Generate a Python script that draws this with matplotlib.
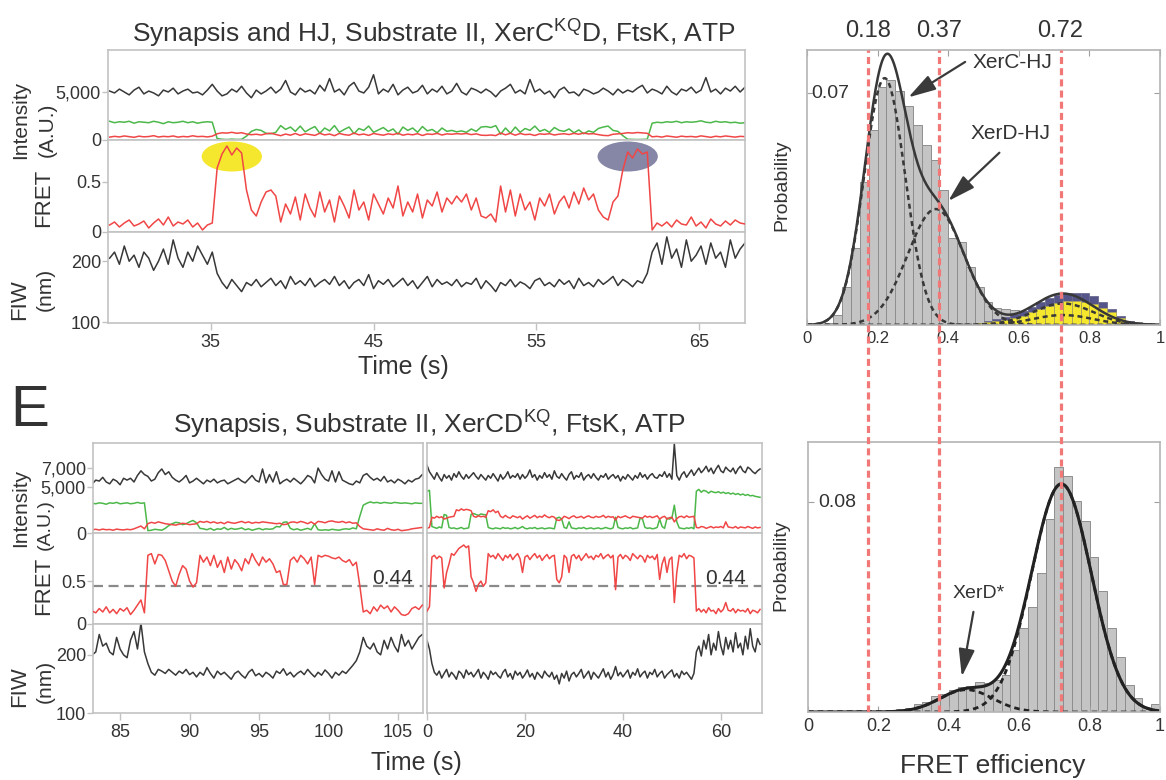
import numpy as np
import matplotlib
matplotlib.use("Agg")
import matplotlib.pyplot as plt
from matplotlib.patches import Ellipse
from matplotlib import font_manager

# ---------------- data ----------------
# top-left trace (Synapsis and HJ), sampled every 0.3 s from 28.8 s
TL_T0, TL_DT = 28.8, 0.3
tl_fret = [0.07, 0.10, 0.05, 0.09, 0.12, 0.06, 0.08, 0.11, 0.04, 0.09,
           0.13, 0.07, 0.15, 0.06, 0.10, 0.08, 0.12, 0.05, 0.09, 0.02,
           0.07, 0.09, 0.64, 0.78, 0.86, 0.77, 0.84, 0.79, 0.42, 0.22,
           0.16, 0.30, 0.40, 0.42, 0.36, 0.10, 0.28, 0.18, 0.35, 0.12,
           0.38, 0.24, 0.15, 0.40, 0.20, 0.32, 0.10, 0.36, 0.26, 0.14,
           0.42, 0.22, 0.30, 0.12, 0.38, 0.28, 0.18, 0.34, 0.24, 0.46,
           0.16, 0.30, 0.20, 0.38, 0.14, 0.32, 0.26, 0.40, 0.20, 0.34,
           0.28, 0.36, 0.30, 0.38, 0.22, 0.34, 0.16, 0.14, 0.18, 0.10,
           0.46, 0.20, 0.42, 0.16, 0.38, 0.22, 0.30, 0.12, 0.34, 0.26,
           0.38, 0.18, 0.30, 0.36, 0.24, 0.40, 0.28, 0.44, 0.32, 0.38,
           0.22, 0.15, 0.12, 0.30, 0.36, 0.62, 0.80, 0.74, 0.83, 0.78,
           0.80, 0.02, 0.09, 0.06, 0.10, 0.05, 0.12, 0.08, 0.07, 0.15,
           0.06, 0.10, 0.04, 0.13, 0.08, 0.06, 0.11, 0.07, 0.12, 0.09,
           0.08]
tl_green = [1950, 1800, 1900, 1850, 1950, 1750, 1900, 1850, 1800, 1950,
            1850, 1700, 1900, 1800, 1850, 1950, 1800, 1900, 1750, 1850,
            1900, 1850, 150, 80, 50, 90, 60, 70, 400, 900,
            1100, 1000, 700, 650, 800, 1500, 1100, 1350, 900, 1450,
            850, 1150, 1400, 700, 1250, 950, 1500, 800, 1100, 1350,
            650, 1200, 1000, 1450, 800, 1050, 1300, 900, 1150, 600,
            1350, 1000, 1250, 800, 1400, 950, 1100, 750, 1250, 900,
            1000, 850, 950, 800, 1150, 900, 1350, 1400, 1300, 1500,
            600, 1250, 700, 1350, 800, 1200, 1000, 1450, 900, 1100,
            800, 1300, 1000, 900, 1150, 750, 1050, 650, 950, 800,
            1200, 1350, 1450, 1000, 900, 450, 80, 60, 50, 70,
            80, 1750, 1850, 1800, 1900, 1850, 1950, 1800, 1900, 1850,
            1900, 2000, 1850, 1800, 1950, 1850, 1900, 1800, 1850, 1750,
            1800]
tl_red = [300, 380, 320, 420, 350, 280, 400, 330, 360, 450,
          310, 380, 340, 420, 300, 370, 330, 440, 350, 380,
          320, 400, 650, 750, 720, 800, 700, 760, 620, 550,
          600, 520, 650, 700, 580, 450, 620, 500, 680, 480,
          650, 560, 480, 700, 530, 620, 450, 680, 560, 500,
          720, 540, 620, 480, 680, 580, 500, 640, 560, 700,
          500, 610, 540, 660, 470, 630, 580, 690, 520, 640,
          600, 660, 620, 680, 560, 640, 500, 480, 520, 460,
          720, 540, 700, 500, 680, 560, 600, 470, 640, 590,
          660, 520, 610, 650, 570, 690, 600, 720, 630, 660,
          560, 480, 450, 600, 640, 680, 760, 720, 780, 740,
          700, 330, 380, 300, 420, 350, 290, 400, 340, 370,
          310, 430, 350, 280, 390, 330, 420, 360, 300, 380,
          350]
tl_total = [5100, 4900, 5300, 5000, 4700, 5200, 5500, 4800, 5100, 4900,
            4600, 5200, 5000, 5400, 4800, 5100, 5300, 4900, 5000, 4700,
            5200, 5800, 5100, 4600, 4800, 5300, 5000, 5600, 4900, 4400,
            5200, 4800, 5100, 5500, 4900, 5300, 6200, 5000, 4700, 5400,
            5000, 5200, 4800, 5700, 5100, 6400, 5000, 5300, 4700, 5600,
            6000, 5100, 4900, 5500, 6800, 4800, 5300, 5000, 5800, 4700,
            5200, 5500, 4900, 5100, 5700, 4800, 5300, 5000, 5600, 4800,
            5100, 5900, 5000, 4700, 5400, 5200, 4900, 5300, 5000, 4500,
            5100, 5400, 5800, 4900, 5200, 4800, 6300, 5000, 5300, 4800,
            5100, 4400, 5200, 5500, 4900, 5000, 4600, 5300, 5100, 4800,
            5000, 5400, 5100, 4700, 5300, 4900, 5200, 5000, 5400, 5700,
            4900, 5300, 5100, 4800, 5600, 5000, 4700, 5300, 5100, 5500,
            4900, 5200, 6500, 5000, 5300, 4800, 5400, 5100, 5600, 5000,
            5500]
tl_fiw = [205, 215, 195, 225, 200, 210, 190, 215, 205, 185,
          200, 220, 195, 235, 205, 190, 215, 200, 225, 210,
          195, 215, 180, 165, 155, 170, 160, 150, 165, 160,
          170, 158, 165, 172, 160, 168, 155, 175, 162, 168,
          160, 172, 158, 165, 170, 162, 175, 160, 168, 155,
          165, 170, 160, 178, 155, 168, 162, 170, 158, 165,
          172, 160, 168, 155, 165, 175, 158, 170, 162, 166,
          160, 170, 158, 165, 162, 172, 155, 168, 160, 150,
          165, 160, 170, 158, 166, 162, 155, 168, 172, 160,
          165, 158, 170, 162, 168, 155, 172, 160, 165, 158,
          170, 162, 168, 175, 160, 170, 165, 158, 168, 164,
          180, 215, 230, 195, 240, 205, 220, 190, 235, 200,
          210, 225, 195, 230, 205, 215, 190, 235, 205, 220,
          230]

# bottom-left trace (Synapsis, XerCD^KQ), every 0.25 s from 83 s
BL_T0, BL_DT = 83.0, 0.25
bl_fret = [0.15, 0.13, 0.18, 0.14, 0.20, 0.13, 0.17, 0.12, 0.18, 0.15,
           0.19, 0.11, 0.16, 0.22, 0.28, 0.13, 0.80, 0.82, 0.70, 0.81,
           0.80, 0.74, 0.62, 0.50, 0.44, 0.58, 0.68, 0.64, 0.50, 0.43,
           0.48, 0.80, 0.72, 0.78, 0.68, 0.80, 0.66, 0.74, 0.60, 0.78,
           0.64, 0.75, 0.70, 0.62, 0.76, 0.70, 0.82, 0.74, 0.68, 0.78,
           0.72, 0.76, 0.70, 0.60, 0.62, 0.46, 0.46, 0.74, 0.78, 0.72,
           0.80, 0.76, 0.70, 0.78, 0.46, 0.80, 0.78, 0.80, 0.79, 0.77,
           0.76, 0.78, 0.74, 0.72, 0.75, 0.68, 0.72, 0.45, 0.14, 0.16,
           0.12, 0.20, 0.15, 0.22, 0.18, 0.21, 0.14, 0.20, 0.16, 0.11,
           0.10, 0.12, 0.18, 0.20, 0.17, 0.22]
bl_green = [3200, 3150, 3250, 3200, 3100, 3250, 3200, 3300, 3150, 3200,
            3250, 3150, 3200, 3300, 3200, 3250, 250, 300, 400, 350,
            300, 500, 800, 1000, 1150, 1100, 900, 1000, 1200, 1350,
            1100, 500, 450, 350, 500, 300, 450, 400, 600, 350,
            500, 400, 450, 550, 350, 450, 300, 400, 500, 350,
            450, 400, 450, 700, 650, 1150, 1200, 500, 350, 450,
            300, 400, 500, 350, 1000, 350, 300, 350, 300, 400,
            350, 300, 400, 450, 400, 550, 450, 1800, 3000, 3200,
            3350, 3250, 3300, 3200, 3300, 3250, 3200, 3300, 3250, 3200,
            3250, 3200, 3150, 3250, 3200, 3200]
bl_red = [350, 400, 320, 420, 350, 380, 300, 420, 360, 330,
          400, 350, 450, 600, 750, 450, 1000, 1150, 1050, 1200,
          1100, 1000, 950, 900, 850, 950, 1050, 1000, 900, 950,
          1000, 1250, 1150, 1250, 1100, 1200, 1050, 1150, 1000, 1200,
          1100, 1050, 1150, 1250, 1100, 1200, 1050, 1150, 1100, 1200,
          1150, 1100, 1050, 1000, 1050, 900, 950, 1150, 1200, 1100,
          1250, 1150, 1000, 1200, 950, 1250, 1200, 1100, 1250, 1300,
          1200, 1150, 1250, 1100, 1200, 1050, 1100, 700, 450, 400,
          350, 300, 450, 350, 300, 500, 350, 300, 400, 250,
          300, 350, 450, 500, 550, 600]
bl_total = [5300, 5700, 5600, 6000, 5500, 5300, 5800, 5600, 5200, 5900,
            5700, 5900, 5500, 6200, 6700, 6300, 6100, 5600, 5800, 6500,
            6900, 6300, 6600, 6000, 5700, 5500, 5800, 6200, 5400, 5600,
            5900, 5600, 5300, 5700, 5500, 5800, 5400, 5600, 5700, 5300,
            5500, 5700, 5900, 5600, 5400, 5800, 6200, 5700, 5500, 6900,
            5400, 6300, 5500, 6600, 5300, 5600, 5800, 5500, 5900, 5600,
            5300, 5700, 6200, 6000, 5400, 7000, 6300, 5800, 5600, 6700,
            5500, 6600, 5700, 5500, 5300, 5200, 5600, 5400, 6200, 6400,
            6000, 5700, 5900, 5600, 6100, 5500, 5700, 5400, 5800, 5600,
            5300, 5700, 5500, 5800, 5900, 6300]
bl_fiw = [200, 205, 235, 215, 220, 205, 200, 230, 210, 200,
          195, 225, 240, 210, 255, 205, 185, 170, 165, 175,
          172, 168, 175, 170, 165, 172, 168, 175, 166, 170,
          162, 170, 165, 178, 168, 160, 172, 166, 170, 164,
          158, 168, 172, 165, 160, 170, 175, 164, 168, 162,
          170, 166, 160, 172, 168, 176, 165, 170, 162, 168,
          172, 166, 175, 168, 162, 170, 165, 174, 168, 160,
          170, 165, 172, 168, 175, 182, 190, 205, 230, 215,
          210, 220, 205, 200, 225, 210, 230, 215, 205, 235,
          215, 225, 210, 220, 230, 235]

# bottom-right trace, every 0.5 s from 0 s
BR_T0, BR_DT = 0.0, 0.5
br_fret = [0.15, 0.20, 0.78, 0.80, 0.76, 0.79, 0.77, 0.42, 0.60, 0.70,
           0.82, 0.80, 0.84, 0.88, 0.90, 0.92, 0.89, 0.91, 0.55, 0.48,
           0.38, 0.46, 0.50, 0.44, 0.48, 0.82, 0.78, 0.80, 0.76, 0.82,
           0.78, 0.74, 0.80, 0.77, 0.81, 0.75, 0.79, 0.82, 0.76, 0.60,
           0.78, 0.80, 0.75, 0.79, 0.82, 0.77, 0.80, 0.74, 0.78, 0.81,
           0.76, 0.79, 0.80, 0.52, 0.48, 0.55, 0.80, 0.77, 0.60, 0.79,
           0.81, 0.76, 0.80, 0.74, 0.78, 0.82, 0.77, 0.79, 0.75, 0.80,
           0.78, 0.82, 0.76, 0.79, 0.81, 0.77, 0.80, 0.40, 0.78, 0.81,
           0.76, 0.80, 0.78, 0.74, 0.82, 0.79, 0.76, 0.80, 0.78, 0.72,
           0.80, 0.77, 0.79, 0.75, 0.81, 0.52, 0.70, 0.78, 0.60, 0.75,
           0.78, 0.25, 0.60, 0.80, 0.78, 0.82, 0.76, 0.80, 0.79, 0.77,
           0.15, 0.18, 0.14, 0.17, 0.13, 0.19, 0.15, 0.16, 0.12, 0.18,
           0.14, 0.17, 0.25, 0.16, 0.15, 0.18, 0.13, 0.17, 0.15, 0.16,
           0.14, 0.18, 0.12, 0.16, 0.15, 0.13, 0.17]
br_green = [4500, 4600, 700, 600, 500, 650, 550, 2000, 1900, 600,
            500, 550, 450, 500, 600, 450, 500, 550, 2000, 2100,
            2000, 1900, 2050, 2000, 1950, 600, 500, 450, 550, 500,
            450, 600, 500, 550, 450, 500, 600, 450, 550, 700,
            500, 450, 550, 500, 600, 450, 500, 550, 450, 500,
            550, 500, 450, 1600, 1700, 1500, 600, 500, 1200, 550,
            500, 450, 550, 500, 600, 450, 500, 550, 450, 500,
            550, 450, 500, 600, 500, 450, 550, 1700, 600, 500,
            450, 550, 500, 600, 450, 500, 550, 1600, 1500, 600,
            500, 550, 450, 500, 600, 1500, 700, 500, 1600, 1500,
            1600, 3000, 1200, 550, 500, 450, 550, 500, 600, 450,
            4500, 4700, 4400, 4600, 4500, 4300, 4500, 4400, 4350, 4450,
            4300, 4400, 4250, 4350, 4200, 4300, 4150, 4250, 4100, 4200,
            4050, 4150, 4000, 4050, 3950, 3900, 3850]
br_red = [500, 600, 1700, 1600, 1800, 1650, 1750, 1500, 1600, 1700,
          1750, 1800, 2500, 2400, 2600, 2450, 2550, 2500, 2400, 1800,
          1700, 1850, 1750, 1800, 1700, 2400, 2300, 2500, 2200, 2350,
          1800, 1650, 1900, 1700, 1600, 1850, 1750, 1650, 1800, 1500,
          1700, 1850, 1600, 1750, 1900, 1650, 1800, 1700, 1950, 1750,
          1650, 1800, 1700, 1400, 1350, 1500, 1800, 1700, 1550, 1750,
          1850, 1650, 1700, 1800, 1600, 1750, 1850, 1700, 1650, 1800,
          1700, 1750, 1900, 1650, 1800, 1700, 1750, 1400, 1800, 1650,
          1750, 1850, 1700, 1600, 1800, 1750, 1700, 1650, 1600, 1850,
          1700, 1800, 1650, 1750, 1850, 1500, 1700, 1800, 1500, 1650,
          1700, 1200, 1550, 1750, 1800, 1650, 1850, 1700, 1750, 1800,
          600, 550, 700, 650, 500, 600, 700, 550, 650, 600,
          700, 550, 1200, 650, 600, 550, 700, 500, 650, 600,
          550, 700, 600, 500, 650, 550, 600]
br_total = [7300, 6600, 6200, 5800, 6500, 6000, 5600, 6300, 5900, 6200,
            5700, 6400, 6000, 6600, 6100, 5800, 6300, 5900, 6200, 6500,
            6100, 5800, 6300, 6000, 5700, 6200, 5900, 6400, 6000, 5600,
            6300, 5800, 6100, 6600, 5900, 6200, 6000, 6400, 5800, 6300,
            5900, 6200, 6800, 6000, 6300, 5700, 6200, 5900, 6500, 6000,
            6300, 5800, 6700, 6100, 5900, 6400, 6000, 5700, 6300, 6600,
            5800, 6200, 6000, 6500, 5700, 6100, 6300, 5900, 6400, 6000,
            5700, 6200, 6000, 6400, 5800, 6100, 6300, 5900, 6200, 5600,
            6100, 5800, 6300, 6000, 5700, 6200, 5900, 6500, 6000, 6300,
            5800, 6200, 6400, 6000, 5900, 6300, 6100, 6600, 6000, 6400,
            5800, 9600, 6200, 5700, 6300, 6600, 6000, 6400, 6800, 6200,
            6600, 7000, 6500, 6800, 7200, 6600, 7000, 6400, 6900, 7300,
            6700, 6500, 7100, 6800, 6600, 7000, 6400, 6900, 7200, 6700,
            6500, 7100, 6900, 6600, 6400, 6700, 6900]
br_fiw = [225, 210, 185, 170, 165, 172, 160, 168, 175, 162,
          170, 165, 158, 172, 168, 160, 174, 166, 170, 162,
          168, 175, 160, 170, 165, 158, 172, 166, 170, 164,
          160, 170, 175, 162, 168, 158, 172, 165, 170, 160,
          166, 174, 162, 168, 158, 170, 165, 160, 172, 166,
          162, 170, 158, 165, 150, 168, 160, 172, 155, 166,
          170, 162, 168, 175, 160, 166, 172, 158, 170, 165,
          160, 168, 176, 162, 170, 158, 166, 180, 164, 170,
          162, 168, 174, 160, 170, 165, 176, 162, 168, 172,
          160, 170, 166, 175, 162, 168, 172, 160, 166, 170,
          174, 162, 168, 160, 172, 166, 170, 164, 158, 168,
          205, 215, 198, 225, 210, 235, 200, 220, 208, 240,
          215, 200, 230, 210, 225, 205, 238, 212, 220, 200,
          232, 210, 245, 215, 205, 228, 218]

# FRET histograms, 40 bins of 0.025
BIN_W = 0.025
hist_top = [0, 0, 0.0007, 0.0030, 0.0114, 0.0232, 0.0433, 0.0589, 0.0718, 0.0740,
            0.0705, 0.0662, 0.0604, 0.0544, 0.0499, 0.0408, 0.0262, 0.0252, 0.0176, 0.0116,
            0.0070, 0.0050, 0.0048, 0.0044, 0.0042, 0.0040, 0.0030, 0.0030, 0.0030, 0.0030,
            0.0030, 0.0030, 0.0030, 0.0025, 0.0020, 0.0015, 0.0010, 0.0008, 0.0005, 0.0003]
# yellow (XerD-HJ window) and stacked purple (XerC-HJ window) tops, bins 0.475 .. 0.925
STACK_FIRST_BIN = 19
hist_yellow = [0.0005, 0.0008, 0.0012, 0.0016, 0.0020, 0.0028, 0.0038, 0.0048, 0.0058, 0.0066,
               0.0072, 0.0073, 0.0070, 0.0064, 0.0052, 0.0038, 0.0022, 0.0010, 0.0003]
hist_purple = [0.0007, 0.0012, 0.0018, 0.0025, 0.0032, 0.0042, 0.0055, 0.0068, 0.0083, 0.0092,
               0.0096, 0.0097, 0.0096, 0.0088, 0.0070, 0.0048, 0.0026, 0.0011, 0.0004]
hist_bot = [0, 0, 0, 0, 0, 0, 0, 0, 0.0002, 0.0005,
            0.0010, 0.0015, 0.0030, 0.0040, 0.0060, 0.0070, 0.0085, 0.0095, 0.0100, 0.0116,
            0.0110, 0.0123, 0.0140, 0.0237, 0.0320, 0.0400, 0.0530, 0.0737, 0.0935, 0.0900,
            0.0806, 0.0730, 0.0590, 0.0460, 0.0320, 0.0210, 0.0104, 0.0053, 0.0015, 0.0030]

# Gaussian fit components (centre, sigma, amplitude)
top_mu = [0.22, 0.365, 0.725, 0.725]
top_sd = [0.058, 0.08, 0.085, 0.085]
top_amp = [0.0745, 0.035, 0.0065, 0.003]
bot_mu = [0.45, 0.72]
bot_sd = [0.075, 0.085]
bot_amp = [0.0085, 0.087]

fret_marks = [0.172, 0.372, 0.718]
fret_mark_labels = ["0.18", "0.37", "0.72"]

# ---------------- style ----------------
_names = {f.name for f in font_manager.fontManager.ttflist}
HAS_NARROW = "Liberation Sans Narrow" in _names
NARROW = "Liberation Sans Narrow" if HAS_NARROW else "Liberation Sans"
TITLE_FS = 23 if HAS_NARROW else 19

plt.rcParams["font.family"] = ["Liberation Sans", "DejaVu Sans"]
plt.rcParams["mathtext.fontset"] = "custom"
plt.rcParams["mathtext.rm"] = NARROW

DARK = "#383838"
GREEN = "#4cb84a"
RED = "#f04646"
FRAME = "#c2c2c2"
TXT = "#333333"
LW = 1.1

W, H = 1166, 780
fig = plt.figure(figsize=(W / 100, H / 100), dpi=100)


def ax_px(l, t, r, b):
    return fig.add_axes([l / W, 1 - b / H, (r - l) / W, (b - t) / H])


def ftext(x, y, s, **kw):
    kw.setdefault("color", TXT)
    return fig.text(x / W, 1 - y / H, s, **kw)


def frame(ax, col=FRAME):
    for s in ax.spines.values():
        s.set_color(col)
        s.set_linewidth(1.2)


def trace_stack(l, r, rows, t0, dt, total, green, red, fret, fiw,
                xlim, xticks, int_lim, int_ticks, int_labels,
                fret_lim, fiw_lim, show_y):
    axes = [ax_px(l, rows[i], r, rows[i + 1]) for i in range(3)]
    a_int, a_fr, a_fw = axes
    t = t0 + dt * np.arange(len(fret))
    a_int.plot(t, total, color=DARK, lw=LW)
    a_int.plot(t, green, color=GREEN, lw=LW)
    a_int.plot(t, red, color=RED, lw=LW)
    a_fr.plot(t, fret, color=RED, lw=LW, zorder=3)
    a_fw.plot(t, fiw, color=DARK, lw=LW)
    a_int.set_ylim(*int_lim)
    a_fr.set_ylim(*fret_lim)
    a_fw.set_ylim(*fiw_lim)
    a_int.set_yticks(int_ticks)
    a_fr.set_yticks([0, 0.5])
    a_fw.set_yticks([100, 200])
    if show_y:
        a_int.set_yticklabels(int_labels)
        a_fr.set_yticklabels(["0", "0.5"])
        a_fw.set_yticklabels(["100", "200"])
    for a in axes:
        frame(a)
        a.set_xlim(*xlim)
        a.tick_params(colors=FRAME, labelcolor=TXT, labelsize=13,
                      length=4 if show_y else 0, width=1, pad=1)
        if not show_y:
            a.set_yticklabels([])
        if a is not a_fw:
            a.set_xticks([])
    a_fw.set_xticks(xticks)
    a_fw.set_xticklabels([str(x) for x in xticks])
    a_fw.tick_params(axis="x", length=5, pad=3)
    return axes


# ---------------- top-left traces ----------------
tl = trace_stack(108, 745, [50, 140, 232, 323], TL_T0, TL_DT,
                 tl_total, tl_green, tl_red, tl_fret, tl_fiw,
                 (28.7, 67.8), [35, 45, 55, 65], (0, 9375), [0, 5000], ["0", "5,000"],
                 (0, 0.92), (98.5, 248), True)
tl[1].add_patch(Ellipse((36.3, 0.755), 3.7, 0.30, color="#f5e72e", zorder=1, lw=0))
tl[1].add_patch(Ellipse((60.6, 0.755), 3.7, 0.30, color="#8686a6", zorder=1, lw=0))

ftext(434, 42, r"Synapsis and HJ, Substrate II, XerC$^{\mathrm{KQ}}$D, FtsK, ATP",
      fontsize=TITLE_FS, family=NARROW, ha="center", va="baseline")
ftext(403, 374, "Time (s)", fontsize=18, ha="center", va="baseline")

# ---------------- bottom traces ----------------
bl = trace_stack(93, 423, [443, 533, 624, 713], BL_T0, BL_DT,
                 bl_total, bl_green, bl_red, bl_fret, bl_fiw,
                 (83.05, 106.8), [85, 90, 95, 100, 105], (0, 9700),
                 [0, 5000, 7000], ["0", "5,000", "7,000"],
                 (0, 1.06), (100, 253), True)
br = trace_stack(427, 762, [443, 533, 624, 713], BR_T0, BR_DT,
                 br_total, br_green, br_red, br_fret, br_fiw,
                 (0, 68.4), [0, 20, 40, 60], (0, 9700),
                 [0, 5000, 7000], [], (0, 1.06), (100, 253), False)
br[2].tick_params(axis="x", length=5)
for a, tx in ((bl[1], 104.6), (br[1], 61.0)):
    a.axhline(0.44, color="#8a8a8a", lw=1.6, ls=(0, (4.5, 2.5)), zorder=2)
    a.text(tx, 0.535, "0.44", fontsize=15, color=TXT, ha="center", va="center")

ftext(429, 433, r"Synapsis, Substrate II, XerCD$^{\mathrm{KQ}}$, FtsK, ATP",
      fontsize=TITLE_FS, family=NARROW, ha="center", va="baseline")
ftext(416, 770, "Time (s)", fontsize=18, ha="center", va="baseline")
ftext(10, 426, "E", fontsize=42, ha="left", va="baseline")

# y labels of the trace stacks (pixel centres)
ftext(21, 120, "Intensity", fontsize=15, rotation=90, ha="center", va="center")
ftext(47, 130, "(A.U.)", fontsize=15, rotation=90, ha="center", va="center")
ftext(44, 198, "FRET", fontsize=16, rotation=90, ha="center", va="center")
ftext(20, 300, "FIW", fontsize=16, rotation=90, ha="center", va="center")
ftext(45, 289, "(nm)", fontsize=15, rotation=90, ha="center", va="center")

ftext(21, 508, "Intensity", fontsize=15, rotation=90, ha="center", va="center")
ftext(45, 525, "(A.U.)", fontsize=14, rotation=90, ha="center", va="center")
ftext(44, 586, "FRET", fontsize=16, rotation=90, ha="center", va="center")
ftext(20, 687, "FIW", fontsize=16, rotation=90, ha="center", va="center")
ftext(45, 681, "(nm)", fontsize=15, rotation=90, ha="center", va="center")

# ---------------- histograms ----------------
edges = BIN_W * np.arange(len(hist_top))
xf = np.linspace(0, 1, 500)


def gauss(mu, sd, amp):
    return amp * np.exp(-(xf - mu) ** 2 / (2 * sd ** 2))


def hist_style(ax, ymax, ytick, ylab, lab_x, tick_fs):
    frame(ax, "#b4b4b4")
    ax.set_xlim(0, 1)
    ax.set_ylim(0, ymax)
    ax.set_xticks([0, 0.2, 0.4, 0.6, 0.8, 1])
    ax.set_xticklabels(["0", "0.2", "0.4", "0.6", "0.8", "1"])
    ax.set_yticks([ytick])
    ax.set_yticklabels([])
    ax.tick_params(direction="in", top=True, right=True, colors="#a0a0a0",
                   labelcolor=TXT, labelsize=tick_fs, length=4, pad=4)
    ax.text(lab_x, ytick, ylab, fontsize=14, color=TXT, ha="left", va="center")


hx = ax_px(807, 50, 1160, 325)
hx.bar(edges, hist_top, width=BIN_W, align="edge", color="#c4c4c4",
       edgecolor="#8e8e8e", linewidth=0.7)
se = edges[STACK_FIRST_BIN:STACK_FIRST_BIN + len(hist_yellow)]
hx.bar(se, np.array(hist_purple) - np.array(hist_yellow), bottom=hist_yellow,
       width=BIN_W, align="edge", color="#55558a", edgecolor="#6a6a90", linewidth=0.6)
hx.bar(se, hist_yellow, width=BIN_W, align="edge", color="#f5e72e",
       edgecolor="#a8a060", linewidth=0.6)
for m, s, a in zip(top_mu, top_sd, top_amp):
    hx.plot(xf, gauss(m, s, a), color=DARK, lw=1.8, ls=(0, (2, 1.5)))
hx.plot(xf, sum(gauss(m, s, a) for m, s, a in zip(top_mu, top_sd, top_amp)),
        color=DARK, lw=1.8)
hist_style(hx, 0.083, 0.07, "0.07", 0.013, 12)
arrow = dict(arrowstyle="-|>,head_length=1.2,head_width=0.35", color="#3a3a3a",
             lw=1.6, shrinkA=0, shrinkB=0, mutation_scale=14)
hx.text(0.47, 0.0792, "XerC-HJ", fontsize=15, color=TXT, ha="left", va="center")
hx.annotate("", xy=(0.287, 0.0687), xytext=(0.448, 0.0794), arrowprops=arrow)
hx.text(0.462, 0.0578, "XerD-HJ", fontsize=15, color=TXT, ha="left", va="center")
hx.annotate("", xy=(0.400, 0.0374), xytext=(0.545, 0.052), arrowprops=arrow)

hb = ax_px(808, 442, 1160, 712)
hb.bar(edges, hist_bot, width=BIN_W, align="edge", color="#c4c4c4",
       edgecolor="#8e8e8e", linewidth=0.7)
for m, s, a in zip(bot_mu, bot_sd, bot_amp):
    hb.plot(xf, gauss(m, s, a), color="#222222", lw=2.0, ls=(0, (2, 1.5)))
hb.plot(xf, sum(gauss(m, s, a) for m, s, a in zip(bot_mu, bot_sd, bot_amp)),
        color="#222222", lw=2.2)
hist_style(hb, 0.103, 0.08, "0.08", 0.028, 13)
hb.tick_params(top=False)
hb.text(0.411, 0.0453, "XerD*", fontsize=14, color=TXT, ha="left", va="center")
hb.annotate("", xy=(0.437, 0.0135), xytext=(0.470, 0.0382), arrowprops=arrow)

ftext(782, 185, "Probability", fontsize=14, rotation=90, ha="center", va="center")
ftext(781, 565, "Probability", fontsize=14, rotation=90, ha="center", va="center")
ftext(993, 773, "FRET efficiency", fontsize=19, ha="center", va="baseline")

# red dotted lines running through both histograms
ov = ax_px(807.5, 50, 1160, 712)
ov.set_xlim(0, 1)
ov.set_ylim(0, 1)
ov.axis("off")
for v, lab in zip(fret_marks, fret_mark_labels):
    ov.axvline(v, color="#f27878", lw=2.3, ls=(0, (2.2, 1.3)))
    ov.text(v, 1.028, lab, fontsize=17, color=TXT, ha="center", va="center",
            transform=ov.get_xaxis_transform())

fig.savefig("out.png", dpi=100)
